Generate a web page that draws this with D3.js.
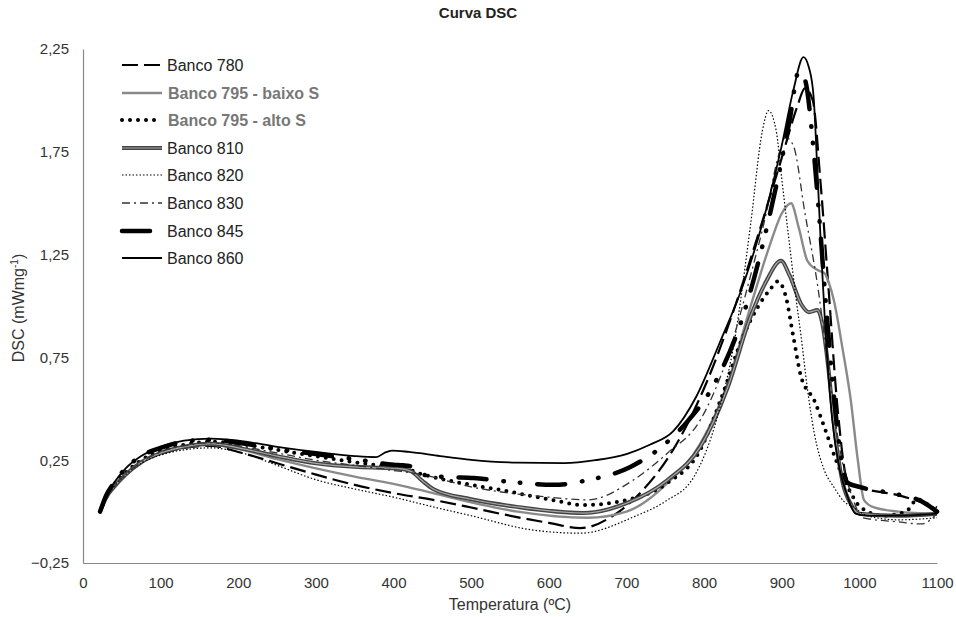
<!DOCTYPE html>
<html>
<head>
<meta charset="utf-8">
<script src="https://cdn.jsdelivr.net/npm/d3@7/dist/d3.min.js"></script>
<style>
body { margin: 0; background: #fff; }
text { font-family: "Liberation Sans", Arial, sans-serif; }
</style>
</head>
<body>
<svg></svg>
<script>
var width = 956;
var height = 617;

// tick labels
var xTicks = [0, 100, 200, 300, 400, 500, 600, 700, 800, 900, 1000, 1100];
var yTicks = [-0.25, 0.25, 0.75, 1.25, 1.75, 2.25];

var names = ['Banco 780', 'Banco 795 - baixo S', 'Banco 795 - alto S', 'Banco 810',
             'Banco 820', 'Banco 830', 'Banco 845', 'Banco 860'];

// temperature (ºC) / DSC (mW/mg)
var t780 = [22, 30, 40, 55, 75, 100, 130, 165, 200, 250, 300, 350, 400, 451, 500, 559, 600, 641, 684, 720, 760, 800, 840, 870, 900, 920, 930, 940, 950, 960, 972, 985, 1000, 1050, 1100];
var v780 = [0, 0.07, 0.12, 0.18, 0.24, 0.28, 0.31, 0.32, 0.29, 0.235, 0.18, 0.13, 0.09, 0.057, 0.02, -0.027, -0.055, -0.08, -0.017, 0.1, 0.3, 0.6, 1.0, 1.35, 1.72, 1.97, 2.06, 2.0, 1.6, 1.1, 0.5, 0.15, 0.12, 0.08, 0.02];

var t795b = [22, 30, 40, 55, 75, 100, 130, 165, 200, 250, 300, 350, 400, 451, 500, 560, 650, 700, 753, 795, 830, 860, 885, 900, 912, 922, 933, 946, 955, 961, 967, 978, 989, 998, 1006, 1019, 1050, 1100];
var v795b = [0, 0.07, 0.12, 0.18, 0.24, 0.285, 0.315, 0.325, 0.305, 0.255, 0.21, 0.17, 0.135, 0.09, 0.045, 0.0, -0.03, 0.0, 0.14, 0.33, 0.62, 1.0, 1.3, 1.45, 1.5, 1.38, 1.22, 1.175, 1.16, 1.11, 1.03, 0.8, 0.54, 0.25, 0.056, 0.02, 0.0, -0.01];

var t795a = [22, 30, 40, 55, 75, 100, 130, 165, 200, 250, 300, 350, 400, 420, 430, 451, 500, 538, 600, 645, 701, 753, 795, 821, 850, 870, 885, 895, 905, 915, 925, 942, 955, 970, 985, 1002, 1030, 1060, 1075, 1090, 1100];
var v795a = [0, 0.07, 0.13, 0.19, 0.25, 0.295, 0.325, 0.34, 0.33, 0.3, 0.27, 0.24, 0.215, 0.205, 0.19, 0.168, 0.13, 0.105, 0.06, 0.032, 0.057, 0.14, 0.3, 0.54, 0.85, 1.0, 1.08, 1.12, 1.05, 0.85, 0.655, 0.54, 0.41, 0.25, 0.12, 0.02, -0.02, 0.0, 0.06, 0.03, 0.0];

var t810 = [22, 30, 40, 55, 75, 100, 130, 165, 200, 250, 300, 350, 383, 405, 423, 437, 451, 500, 559, 645, 701, 753, 795, 830, 860, 880, 899, 910, 925, 935, 946, 953, 960, 968, 978, 990, 1000, 1050, 1100];
var v810 = [0, 0.07, 0.12, 0.18, 0.24, 0.285, 0.315, 0.33, 0.31, 0.27, 0.235, 0.218, 0.213, 0.21, 0.195, 0.15, 0.11, 0.06, 0.023, -0.007, 0.042, 0.154, 0.315, 0.6, 0.95, 1.12, 1.22, 1.15, 1.01, 0.97, 0.98, 0.9, 0.7, 0.4, 0.15, 0.03, -0.01, -0.02, -0.01];

var t820 = [22, 30, 40, 55, 75, 100, 130, 165, 200, 250, 300, 350, 400, 451, 500, 580, 641, 709, 750, 787, 817, 840, 860, 875, 883, 893, 900, 910, 918, 925, 933, 942, 955, 967, 980, 993, 1010, 1050, 1100];
var v820 = [0, 0.07, 0.12, 0.18, 0.235, 0.275, 0.3, 0.31, 0.29, 0.225, 0.155, 0.11, 0.07, 0.023, -0.02, -0.09, -0.105, -0.026, 0.05, 0.17, 0.46, 0.85, 1.4, 1.85, 1.95, 1.85, 1.62, 1.3, 1.05, 0.85, 0.6, 0.38, 0.2, 0.12, 0.05, 0.02, -0.02, -0.04, -0.03];

var t830 = [22, 30, 40, 55, 75, 100, 130, 165, 200, 250, 300, 350, 400, 430, 500, 600, 650, 709, 753, 795, 830, 860, 880, 895, 905, 915, 930, 947, 960, 975, 990, 1005, 1050, 1080, 1100];
var v830 = [0, 0.07, 0.12, 0.18, 0.24, 0.29, 0.32, 0.335, 0.32, 0.285, 0.25, 0.225, 0.2, 0.185, 0.12, 0.07, 0.057, 0.154, 0.285, 0.445, 0.75, 1.15, 1.45, 1.72, 1.82, 1.78, 1.45, 1.08, 0.7, 0.3, 0.08, -0.03, -0.05, -0.06, -0.01];

var t845 = [22, 30, 40, 55, 75, 100, 130, 165, 200, 250, 300, 350, 400, 412, 420, 428, 440, 470, 503, 550, 606, 650, 705, 753, 780, 810, 850, 885, 910, 922, 930, 940, 948, 955, 965, 975, 985, 1000, 1040, 1080, 1100];
var v845 = [0, 0.08, 0.14, 0.21, 0.27, 0.31, 0.34, 0.35, 0.335, 0.305, 0.28, 0.255, 0.228, 0.225, 0.222, 0.2, 0.178, 0.168, 0.163, 0.145, 0.13, 0.153, 0.217, 0.34, 0.445, 0.6, 0.95, 1.45, 1.9, 2.14, 2.1, 1.8, 1.45, 1.1, 0.65, 0.3, 0.14, 0.12, 0.09, 0.05, 0.0];

var t860 = [22, 30, 40, 55, 75, 100, 130, 165, 200, 250, 300, 350, 378, 388, 398, 420, 460, 500, 560, 620, 660, 700, 730, 760, 790, 820, 850, 875, 900, 915, 928, 935, 941, 946, 951, 956, 965, 975, 985, 995, 1010, 1050, 1100];
var v860 = [0, 0.08, 0.14, 0.21, 0.27, 0.315, 0.345, 0.355, 0.345, 0.315, 0.29, 0.27, 0.265, 0.285, 0.297, 0.29, 0.27, 0.252, 0.238, 0.236, 0.25, 0.28, 0.325, 0.39, 0.56, 0.82, 1.1, 1.4, 1.78, 2.05, 2.21, 2.16, 2.02, 1.65, 1.25, 0.9, 0.45, 0.2, 0.07, -0.01, -0.02, -0.02, -0.01];

var temps = [t780, t795b, t795a, t810, t820, t830, t845, t860];
var vals = [v780, v795b, v795a, v810, v820, v830, v845, v860];

// line styles, one per series
var styles = [
    [{ stroke: '#000', w: 2.2, dash: '16,6', cap: 'butt' }],
    [{ stroke: '#8a8a8a', w: 2.4, dash: null, cap: 'butt' }],
    [{ stroke: '#000', w: 4, dash: '0,8', cap: 'round' }],
    [{ stroke: '#444', w: 4, dash: null, cap: 'butt' }, { stroke: '#aaa', w: 1.2, dash: null, cap: 'butt' }],
    [{ stroke: '#000', w: 1.2, dash: '1.5,2', cap: 'butt' }],
    [{ stroke: '#333', w: 1.3, dash: '8,4,2,4', cap: 'butt' }],
    [{ stroke: '#000', w: 4.5, dash: '28,17,0.5,16,0.5,17', cap: 'round' }],
    [{ stroke: '#000', w: 1.8, dash: null, cap: 'butt' }]
];

var legendY = [65, 93, 120, 148, 175, 203, 231, 258];

var x = d3.scaleLinear().domain([0, 1100]).range([83, 937]);
var y = d3.scaleLinear().domain([-0.25, 2.25]).range([563, 49]);

update();

function update() {
    var svg = d3.select('svg')
        .attr('width', width)
        .attr('height', height)
        .attr('xmlns', 'http://www.w3.org/2000/svg')
        .attr('viewBox', '0 0 ' + width + ' ' + height);

    svg.append('rect')
        .attr('width', width)
        .attr('height', height)
        .attr('fill', '#fff');

    // axes
    var xAxis = svg.append('g')
        .attr('transform', 'translate(0,563)')
        .call(d3.axisBottom(x).tickValues(xTicks).tickSize(0).tickPadding(14).tickFormat(d3.format('d')));
    var yAxis = svg.append('g')
        .attr('transform', 'translate(83,0)')
        .call(d3.axisLeft(y).tickValues(yTicks).tickSize(0).tickPadding(14)
            .tickFormat(function (d) { return d3.format('.2f')(d).replace('.', ','); }));

    [xAxis, yAxis].forEach(function (a) {
        a.select('.domain').attr('stroke', '#888').attr('stroke-width', 1.2);
        a.selectAll('text')
            .attr('fill', '#333')
            .style('font-size', '15px')
            .style('font-family', '"Liberation Sans", Arial, sans-serif');
    });

    // title + axis titles
    svg.append('text')
        .attr('x', 478)
        .attr('y', 18)
        .attr('text-anchor', 'middle')
        .attr('font-weight', 'bold')
        .style('font-size', '15px')
        .attr('fill', '#222')
        .text('Curva DSC');

    svg.append('text')
        .attr('x', 510)
        .attr('y', 610)
        .attr('text-anchor', 'middle')
        .style('font-size', '16px')
        .attr('fill', '#333')
        .text('Temperatura (ºC)');

    var yl = svg.append('text')
        .attr('transform', 'translate(24,308) rotate(-90)')
        .attr('text-anchor', 'middle')
        .style('font-size', '16px')
        .attr('fill', '#333');
    yl.append('tspan').text('DSC (mWmg');
    yl.append('tspan').attr('dy', -6).style('font-size', '10px').text('-1');
    yl.append('tspan').attr('dy', 6).text(')');

    // curves
    var line = d3.line()
        .x(function (d) { return x(d[0]); })
        .y(function (d) { return y(d[1]); })
        .curve(d3.curveMonotoneX);

    var plot = svg.append('g');
    names.forEach(function (n, i) {
        var pts = d3.zip(temps[i], vals[i]);
        styles[i].forEach(function (s) {
            plot.append('path')
                .attr('data-name', n)
                .attr('d', line(pts))
                .attr('fill', 'none')
                .attr('stroke', s.stroke)
                .attr('stroke-width', s.w)
                .attr('stroke-dasharray', s.dash)
                .attr('stroke-linecap', s.cap)
                .attr('stroke-linejoin', 'round');
        });
    });

    // legend
    var lg = svg.append('g');
    names.forEach(function (n, i) {
        var ly = legendY[i];
        styles[i].forEach(function (s) {
            lg.append('line')
                .attr('x1', 122).attr('x2', 162)
                .attr('y1', ly).attr('y2', ly)
                .attr('stroke', s.stroke)
                .attr('stroke-width', s.w)
                .attr('stroke-dasharray', s.dash)
                .attr('stroke-linecap', s.cap);
        });
        var grey = (i === 1 || i === 2);
        lg.append('text')
            .attr('x', grey ? 168 : 167)
            .attr('y', ly + 5.5)
            .style('font-size', '16px')
            .attr('font-weight', grey ? 'bold' : 'normal')
            .attr('fill', grey ? '#777' : '#222')
            .text(n);
    });
}
</script>
</body>
</html>
